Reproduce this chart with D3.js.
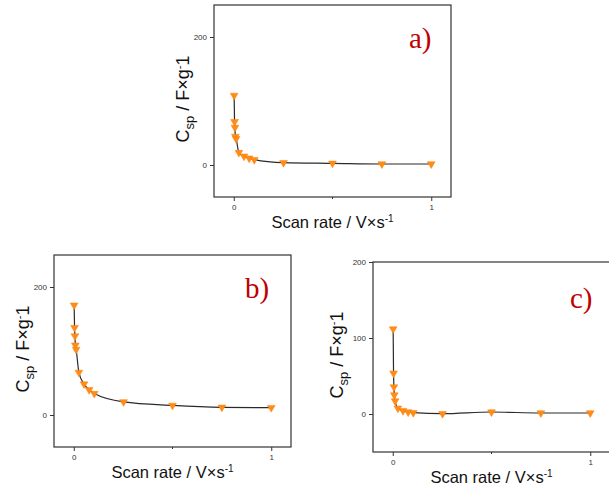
<!DOCTYPE html>
<html>
<head>
<meta charset="utf-8">
<script src="https://cdn.jsdelivr.net/npm/d3@7"></script>
<style>
  html, body { margin: 0; padding: 0; background: #fff; overflow: hidden; }
  svg { display: block; }
</style>
</head>
<body>
<svg id="chart" width="609" height="490"></svg>
<script>
// scan rate (V/s) shared by the three samples
const scanRate = [0.002, 0.004, 0.006, 0.008, 0.012, 0.026, 0.052, 0.078, 0.104, 0.252, 0.5, 0.75, 1];

// specific capacitance (F/g)
const cspA = [108.7, 67.7, 58.7, 44.6, 41, 19.4, 13.7, 10.6, 8.3, 3.6, 2.6, 1.6, 1.6];
const cspB = [171.6, 136.5, 123.3, 109.1, 102.4, 66.6, 48.3, 39.4, 33.5, 20.5, 15, 12, 11.5];
const cspC = [111.8, 53.6, 35.5, 25, 17.1, 7.5, 4.3, 2.6, 1.7, 0.4, 2.6, 1.3, 1.3];

const panelLabels = ['a)', 'b)', 'c)'];
const xTicks = [0, 1];
const yTicksAB = [0, 200];
const yTicksC = [0, 100, 200];

const svg = d3.select('#chart');

// layout of each panel box (pixels)
const panels = [
  { label: panelLabels[0], values: cspA, left: 214, top: 5, w: 237, h: 192, yDomain: [-50, 250], yTicks: yTicksAB, lab: [195, 43], ylabOff: 25 },
  { label: panelLabels[1], values: cspB, left: 54, top: 255, w: 237, h: 192, yDomain: [-50, 250], yTicks: yTicksAB, lab: [191, 43], ylabOff: 25 },
  { label: panelLabels[2], values: cspC, left: 373, top: 262, w: 237, h: 190, yDomain: [-50, 200], yTicks: yTicksC, lab: [197, 46], ylabOff: 30 }
];

panels.forEach(drawPanel);

function drawPanel(p) {
  const g = svg.append('g').attr('transform', `translate(${p.left},${p.top})`);

  const x = d3.scaleLinear().domain([-0.1, 1.1]).range([0, p.w]);
  const y = d3.scaleLinear().domain(p.yDomain).range([p.h, 0]);

  // frame
  g.append('rect')
    .attr('x', 0).attr('y', 0)
    .attr('width', p.w).attr('height', p.h)
    .attr('fill', 'none')
    .attr('stroke', '#333')
    .attr('stroke-width', 1.2);

  const xAxis = g.append('g')
    .attr('transform', `translate(0,${p.h})`)
    .call(d3.axisBottom(x).tickValues(xTicks).tickFormat(d3.format('d')).tickSize(4).tickPadding(3));
  const yAxis = g.append('g')
    .call(d3.axisLeft(y).tickValues(p.yTicks).tickFormat(d3.format('d')).tickSize(4).tickPadding(3));

  [xAxis, yAxis].forEach(ax => {
    ax.select('.domain').remove();
    ax.selectAll('line').attr('stroke', '#333');
    ax.selectAll('text')
      .attr('fill', '#333')
      .style('font-family', 'Liberation Sans, Arial, sans-serif')
      .style('font-size', '8px');
  });

  // small minor tick at 0.5
  g.append('line')
    .attr('x1', x(0.5)).attr('x2', x(0.5))
    .attr('y1', p.h).attr('y2', p.h + 2)
    .attr('stroke', '#333');

  const pts = scanRate.map((s, i) => [s, p.values[i]]);

  const line = d3.line()
    .x(d => x(d[0]))
    .y(d => y(d[1]))
    .curve(d3.curveMonotoneX);

  g.append('path')
    .datum(pts)
    .attr('d', line)
    .attr('fill', 'none')
    .attr('stroke', '#2a2a2a')
    .attr('stroke-width', 1.2);

  const tri = d3.symbol().type(d3.symbolTriangle).size(26);
  g.selectAll('.pt')
    .data(pts)
    .enter()
    .append('path')
    .attr('class', 'pt')
    .attr('d', tri)
    .attr('transform', d => `translate(${x(d[0])},${y(d[1])}) rotate(180)`)
    .attr('fill', '#ff8c1a')
    .attr('stroke', '#ff8000')
    .attr('stroke-width', 0.5);

  // panel letter
  g.append('text')
    .attr('x', p.lab[0]).attr('y', p.lab[1])
    .attr('fill', '#c00000')
    .style('font-family', 'Liberation Serif, Times New Roman, serif')
    .style('font-size', '29px')
    .text(p.label);

  // x label
  const xl = g.append('text')
    .attr('x', p.w / 2).attr('y', p.h + 31)
    .attr('text-anchor', 'middle')
    .attr('fill', '#111')
    .style('font-family', 'Liberation Sans, Arial, sans-serif')
    .style('font-size', '16.5px');
  xl.append('tspan').text('Scan rate / V×s');
  xl.append('tspan').attr('dy', -6).style('font-size', '10px').text('-1');

  // y label
  const yl = g.append('text')
    .attr('transform', `translate(${-p.ylabOff},${p.h / 2 - 2}) rotate(-90)`)
    .attr('text-anchor', 'middle')
    .attr('fill', '#111')
    .style('font-family', 'Liberation Sans, Arial, sans-serif')
    .style('font-size', '18px');
  yl.append('tspan').text('C');
  yl.append('tspan').attr('dy', 5).style('font-size', '13px').text('sp');
  yl.append('tspan').attr('dy', -5).text(' / F×g');
  yl.append('tspan').attr('dy', -6).style('font-size', '11px').text('-');
  yl.append('tspan').attr('dy', 6).text('1');
}
</script>
</body>
</html>
